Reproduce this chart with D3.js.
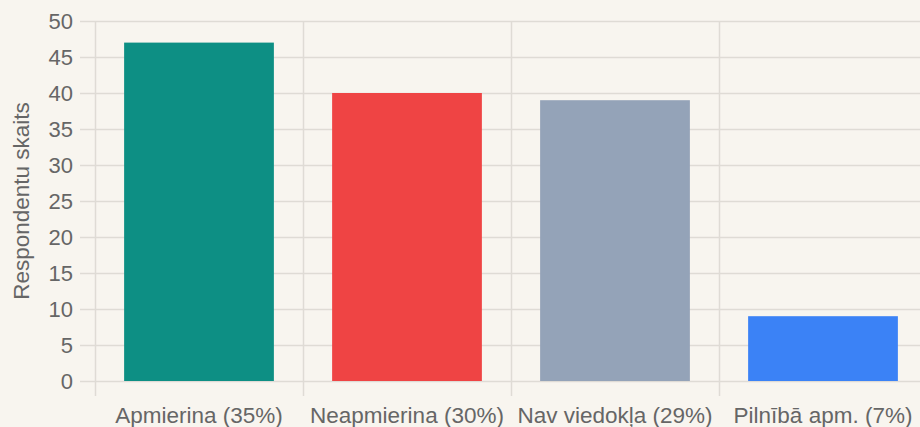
<!DOCTYPE html>
<html>
<head>
<meta charset="utf-8">
<script src="https://cdn.jsdelivr.net/npm/d3@7"></script>
<style>
  html, body { margin: 0; padding: 0; background: #f8f5ef; }
  svg { display: block; }
  text { font-family: "Liberation Sans", Arial, sans-serif; fill: #666; }
</style>
</head>
<body>
<svg id="chart" width="920" height="427"></svg>
<script>
// chart data
var categories = ["Apmierina (35%)", "Neapmierina (30%)", "Nav viedokļa (29%)", "Pilnībā apm. (7%)"];
var counts = [47, 40, 39, 9];
var barColors = ["#0d8f84", "#ef4444", "#94a3b8", "#3b82f6"];
var yTicks = [0, 5, 10, 15, 20, 25, 30, 35, 40, 45, 50];
var yTitle = "Respondentu skaits";

var svg = d3.select("#chart");
// plot area (note: "top" is taken by window.top, so use other names)
var plotLeft = 95, plotRight = 927, plotTop = 21, plotBottom = 381;
var tickLen = 15;
var gridColor = "#dfdbd5";

var xScale = d3.scaleBand().domain(categories).range([plotLeft, plotRight]).paddingInner(0).paddingOuter(0);
var yScale = d3.scaleLinear().domain([0, 50]).range([plotBottom, plotTop]);

// horizontal grid
svg.append("g").selectAll("line").data(yTicks).enter().append("line")
  .attr("x1", plotLeft - tickLen).attr("x2", plotRight)
  .attr("y1", d => yScale(d) + 0.5).attr("y2", d => yScale(d) + 0.5)
  .attr("stroke", gridColor).attr("stroke-width", 1.5);

// vertical grid (category boundaries)
var boundaries = categories.map(c => xScale(c));
svg.append("g").selectAll("line").data(boundaries).enter().append("line")
  .attr("x1", d => d + 0.5).attr("x2", d => d + 0.5)
  .attr("y1", plotTop).attr("y2", plotBottom + tickLen)
  .attr("stroke", gridColor).attr("stroke-width", 1.5);

// bars
var bw = xScale.bandwidth() * 0.72;
svg.append("g").selectAll("rect").data(counts).enter().append("rect")
  .attr("x", (d, i) => xScale(categories[i]) + (xScale.bandwidth() - bw) / 2)
  .attr("y", d => yScale(d))
  .attr("width", bw)
  .attr("height", d => yScale(0) - yScale(d))
  .attr("fill", (d, i) => barColors[i]);

// y tick labels
svg.append("g").selectAll("text").data(yTicks).enter().append("text")
  .attr("x", 73).attr("y", d => yScale(d))
  .attr("dy", "0.35em")
  .attr("text-anchor", "end")
  .attr("font-size", 22)
  .text(d => d);

// x labels
svg.append("g").selectAll("text").data(categories).enter().append("text")
  .attr("x", d => xScale(d) + xScale.bandwidth() / 2)
  .attr("y", 423)
  .attr("text-anchor", "middle")
  .attr("font-size", 22.5)
  .text(d => d);

// y title
svg.append("text")
  .attr("transform", "translate(29," + ((plotTop + plotBottom) / 2) + ") rotate(-90)")
  .attr("text-anchor", "middle")
  .attr("font-size", 22.5)
  .text(yTitle);
</script>
</body>
</html>
